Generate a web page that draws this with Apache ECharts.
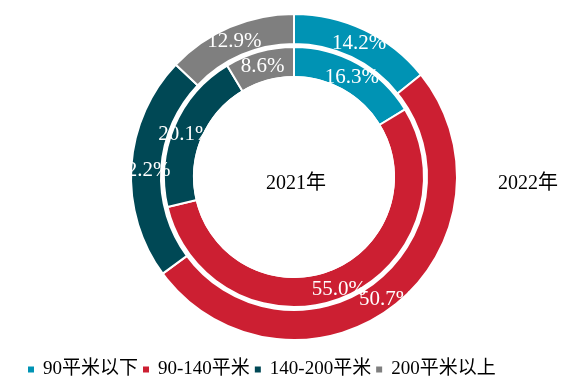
<!DOCTYPE html>
<html>
<head>
<meta charset="utf-8">
<script src="https://cdn.jsdelivr.net/npm/echarts@6/dist/echarts.min.js"></script>
<style>
html,body{margin:0;padding:0;background:#fff;}
#main{width:587px;height:387px;}
</style>
</head>
<body>
<div id="main"></div>
<script>
const categories = ['90平米以下', '90-140平米', '140-200平米', '200平米以上'];
const values2022 = [14.2, 50.7, 22.2, 12.9];
const values2021 = [16.3, 55.0, 20.1, 8.6];
const colors = ['#0093B4', '#CC1F32', '#004855', '#7F7F7F'];
const ringNames = ['2021年', '2022年'];

const FONT = '"Liberation Serif", "Times New Roman", "Noto Sans CJK SC", serif';
const center = [294, 177];

function ring(name, values, radius) {
  return {
    type: 'pie',
    name: name,
    center: center,
    radius: radius,
    startAngle: 90,
    clockwise: true,
    avoidLabelOverlap: false,
    silent: true,
    z: 2,
    itemStyle: { borderColor: '#fff', borderWidth: 2 },
    label: {
      show: true,
      position: 'inside',
      color: '#fff',
      fontFamily: FONT,
      fontSize: 21,
      offset: [0, 3],
      formatter: p => p.value.toFixed(1) + '%'
    },
    labelLayout: { hideOverlap: false },
    labelLine: { show: false },
    data: categories.map((c, i) => ({ name: c, value: values[i], itemStyle: { color: colors[i] } }))
  };
}

function cover(radius) {
  return {
    type: 'pie',
    center: center,
    radius: radius,
    silent: true,
    z: 10,
    label: { show: false },
    labelLine: { show: false },
    itemStyle: { color: '#fff' },
    emphasis: { disabled: true },
    data: [{ name: '', value: 1 }]
  };
}

const chart = echarts.init(document.getElementById('main'), null, { renderer: 'canvas' });
chart.setOption({
  animation: false,
  backgroundColor: '#fff',
  color: colors,
  legend: {
    data: categories,
    left: 21,
    top: 355,
    icon: 'rect',
    itemWidth: 8,
    itemHeight: 8,
    itemGap: 3,
    textStyle: { fontFamily: FONT, fontSize: 19, color: '#000', padding: [0, 0, 0, 3] }
  },
  graphic: [
    { type: 'text', z: 100, x: 296, y: 184, style: { text: ringNames[0], fontFamily: FONT, fontSize: 20, fill: '#000', align: 'center', verticalAlign: 'middle' } },
    { type: 'text', z: 100, x: 528, y: 184, style: { text: ringNames[1], fontFamily: FONT, fontSize: 20, fill: '#000', align: 'center', verticalAlign: 'middle' } }
  ],
  series: [
    ring(ringNames[1], values2022, [133, 163]),
    ring(ringNames[0], values2021, [100, 130]),
    cover([0, 101]),
    cover([163, 178])
  ]
});
</script>
</body>
</html>
